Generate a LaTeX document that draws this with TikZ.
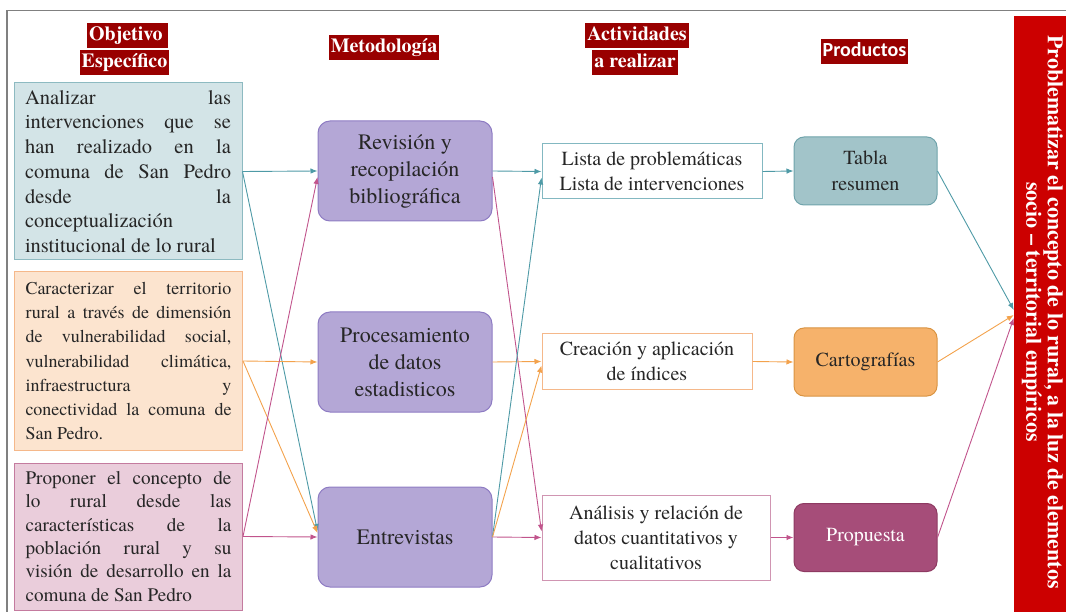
\documentclass[tikz,border=0pt]{standalone}
\usepackage{fontspec}
\setmainfont{texgyretermes}[Extension=.otf, UprightFont=*-regular, BoldFont=*-bold,
  ItalicFont=*-italic, BoldItalicFont=*-bolditalic]
\newfontfamily\calibri{Carlito}
\usepackage{xcolor}
\usetikzlibrary{arrows.meta, positioning}

\definecolor{rojoosc}{HTML}{990000}
\definecolor{rojo}{HTML}{CC0000}
\definecolor{azulF}{HTML}{D3E4E7}
\definecolor{azulB}{HTML}{8DBAC1}
\definecolor{azulL}{HTML}{4E9AA6}
\definecolor{naranjaF}{HTML}{FCE4CF}
\definecolor{naranjaB}{HTML}{F5B88A}
\definecolor{naranjaL}{HTML}{F3A24C}
\definecolor{rosaF}{HTML}{EACDDB}
\definecolor{rosaB}{HTML}{C47B9F}
\definecolor{rosaL}{HTML}{C1548C}
\definecolor{morado}{HTML}{B4A7D6}
\definecolor{moradoB}{HTML}{8E7CC3}
\definecolor{tablaF}{HTML}{A2C4C9}
\definecolor{tablaB}{HTML}{6FA3AB}
\definecolor{cartoF}{HTML}{F6B26B}
\definecolor{cartoB}{HTML}{D99443}
\definecolor{propF}{HTML}{A64D79}
\definecolor{propB}{HTML}{8E3A62}

\begin{document}
\begin{tikzpicture}[x=1pt, y=-1pt, >={Latex[length=7pt,width=5.5pt]},
  titulo/.style={fill=rojoosc, text=white, font=\fontsize{20}{24}\selectfont\bfseries,
    inner xsep=2pt, inner ysep=3.25pt, text height=14pt, text depth=4.5pt},
  objetivo/.style={draw, line width=1pt, text width=206pt, inner xsep=11pt, inner ysep=0pt,
    align=justify, text=black!85},
  metodo/.style={draw=moradoB, fill=morado, line width=1pt, rounded corners=12pt,
    minimum width=174pt, minimum height=100pt, align=center, text=black!85,
    font=\fontsize{22}{27}\selectfont},
  actividad/.style={draw, line width=1pt, fill=white, minimum height=55pt, inner sep=0pt,
    align=center, text=black!85, font=\fontsize{20}{25}\selectfont},
  producto/.style={draw, line width=1pt, rounded corners=10pt, minimum width=143pt,
    minimum height=68pt, align=center, text=black!85, font=\fontsize{20}{26}\selectfont},
  flecha/.style={->, line width=0.9pt}
]
  \useasboundingbox (0,0) rectangle (1066,612);

  % Marco
  \draw[gray, line width=1.5pt] (7,612) -- (7,10.5) -- (1066,10.5);

  % Titulos
  \node[titulo] (t1a) at (127.5,35.5) {Objetivo\,};
  \node[titulo] (t1b) at (124.5,62.5) {Específico};
  \node[titulo] (t2) at (384,48) {Metodología};
  \node[titulo] (t3a) at (637,35.5) {Actividades};
  \node[titulo] (t3b) at (635,62.5) {a realizar};
  \node[titulo, font=\fontsize{20}{24}\calibri\bfseries] (t4) at (864.5,52) {Productos};

  % Objetivos especificos
  \node[objetivo, draw=azulB, fill=azulF, minimum height=177pt,
    font=\fontsize{20.5}{24.7}\selectfont] (obj1) at (128,171.5)
    {Analizar las\linebreak intervenciones que se\linebreak han realizado en la\linebreak
     comuna de San Pedro\linebreak desde la\linebreak conceptualización\linebreak
     institucional de lo rural};
  \node[objetivo, draw=naranjaB, fill=naranjaF, minimum height=178pt,
    font=\fontsize{18}{24.3}\selectfont] (obj2) at (128.5,361)
    {Caracterizar el territorio\linebreak rural a través de dimensión\linebreak
     de vulnerabilidad social,\linebreak vulnerabilidad climática,\linebreak
     infraestructura y\linebreak conectividad la comuna de\linebreak San Pedro.};
  \node[objetivo, draw=rosaB, fill=rosaF, minimum height=147pt,
    font=\fontsize{19.2}{23.3}\selectfont] (obj3) at (128.5,536.5)
    {Proponer el concepto de\linebreak lo rural desde las\linebreak
     características de la\linebreak población rural y su\linebreak
     visión de desarrollo en la\linebreak comuna de San Pedro};

  % Metodologia
  \node[metodo] (met1) at (405,171) {Revisión y\\recopilación\\bibliográfica};
  \node[metodo] (met2) at (405,362) {Procesamiento\\de datos\\estadisticos};
  \node[metodo] (met3) at (405,537) {Entrevistas};

  % Actividades
  \node[actividad, draw=azulL!70, minimum width=220pt] (act1) at (652,171.5)
    {Lista de problemáticas\\Lista de intervenciones};
  \node[actividad, draw=naranjaB, minimum width=210pt] (act2) at (647,361.5)
    {Creación y aplicación\\de índices};
  \node[actividad, draw=rosaB!80, minimum width=228pt, minimum height=85pt] (act3) at (656,537.5)
    {Análisis y relación de\\datos cuantitativos y\\cualitativos};

  % Productos
  \node[producto, draw=tablaB, fill=tablaF] (prod1) at (865.5,171) {Tabla\\resumen};
  \node[producto, draw=cartoB, fill=cartoF] (prod2) at (865.5,362) {Cartografías};
  \node[producto, draw=propB, fill=propF, text=white] (prod3) at (865.5,537.5) {Propuesta};

  % Meta final
  \node[fill=rojo, minimum width=52pt, minimum height=596pt, inner sep=0pt] (meta) at (1040,314) {};
  \node[rotate=-90, text=white, align=center, font=\fontsize{22}{21.5}\selectfont\bfseries]
    (metatxt) at (1042.5,312)
    {Problematizar el concepto de lo rural, a la luz de elementos\\socio – territorial empíricos};

  % Flechas: objetivos -> metodologia
  \draw[flecha, azulL] (obj1.east) -- (met1.west);
  \draw[flecha, azulL] (obj1.east) -- ([yshift=6pt]met3.west);
  \draw[flecha, naranjaL] (obj2.east) -- (met2.west);
  \draw[flecha, naranjaL] (obj2.east) -- ([yshift=4pt]met3.west);
  \draw[flecha, rosaL] (obj3.east) -- (met3.west);
  \draw[flecha, rosaL] (obj3.east) -- ([yshift=-6pt]met1.west);

  % Flechas: metodologia -> actividades
  \draw[flecha, azulL] (met1.east) -- (act1.west);
  \draw[flecha, rosaL] ([yshift=-6pt]met1.east) -- ([yshift=6pt]act3.west);
  \draw[flecha, naranjaL] (met2.east) -- (act2.west);
  \draw[flecha, rosaL] (met3.east) -- (act3.west);
  \draw[flecha, azulL] (met3.east) -- ([yshift=-6pt]act1.west);
  \draw[flecha, naranjaL] (met3.east) -- ([yshift=-4pt]act2.west);

  % Flechas: actividades -> productos
  \draw[flecha, azulL] (act1.east) -- (prod1.west);
  \draw[flecha, naranjaL] (act2.east) -- (prod2.west);
  \draw[flecha, rosaL] (act3.east) -- (prod3.west);

  % Flechas: productos -> meta
  \draw[flecha, azulL] (prod1.east) -- ([yshift=4pt]meta.west);
  \draw[flecha, naranjaL] (prod2.east) -- ([yshift=-1pt]meta.west);
  \draw[flecha, rosaL] (prod3.east) -- ([yshift=-4pt]meta.west);

\end{tikzpicture}
\end{document}
